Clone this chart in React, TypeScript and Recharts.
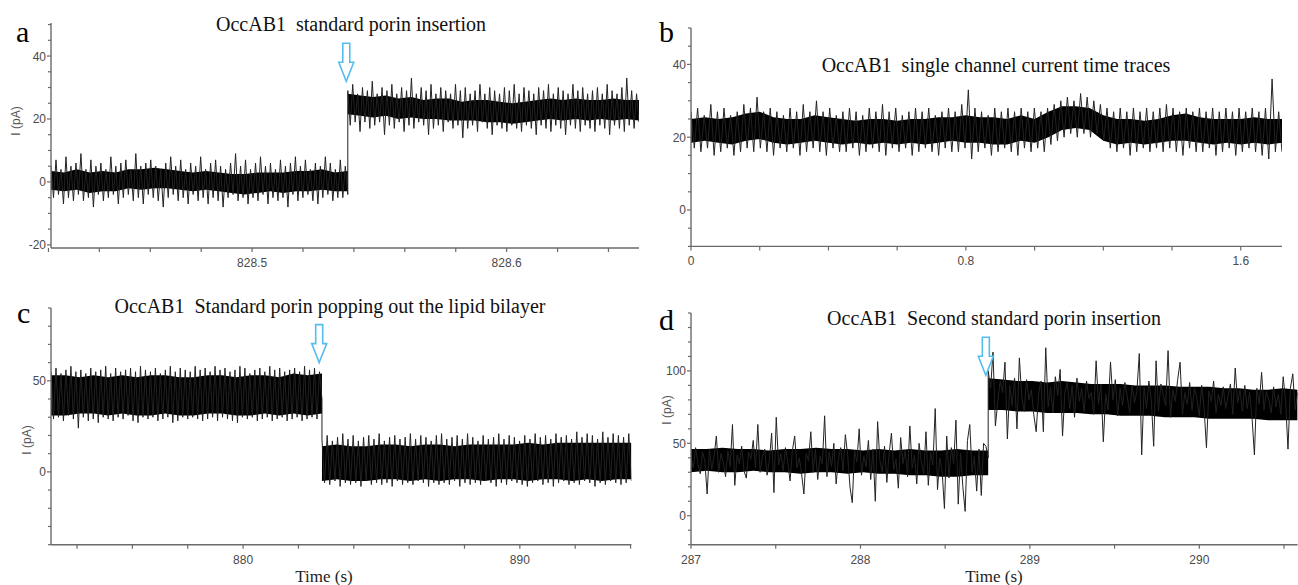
import React from 'react';
import { ComposedChart, Line, Area, XAxis, YAxis, ReferenceDot } from 'recharts';

const AXIS_COLOR = '#6a6a6a';
const TICK_TEXT = '#4a4a4a';
const ARROW_COLOR = '#55bdee';
const TRACE_COLOR = '#222222';

// ---------------- Panel a : OccAB1 standard porin insertion ----------------
const aTimeStart = 828.421;
const aTimeEnd = 828.652;
const aStepTime = 828.5376;
const aPreTrace = [
  5, -5, 7, -4, 4, -7, 8, -5, 5, -6, 6, -4, 9, -6, 4, -5, 7, -8, 5, -4,
  6, -6, 4, -5, 8, -4, 5, -7, 6, -5, 7, -4, 4, -6, 9, -5, 5, -7, 6, -4,
  7, -5, 5, -6, 4, -8, 6, -5, 8, -4, 5, -6, 7, -5, 4, -7, 6, -4, 5, -6,
  8, -5, 4, -7, 6, -5, 7, -6, 5, -8, 4, -5, 6, -4, 9, -6, 5, -5, 7, -7,
  4, -5, 6, -6, 8, -4, 5, -7, 6, -5, 4, -6, 7, -5, 5, -8, 6, -4, 8, -6,
  5, -5, 7, -4, 4, -6, 6, -7, 5, -5, 8, -4, 6, -6, 4, -5, 7, -5, 5, -4,
];
const aPostTrace = [
  29, 18, 31, 19, 28, 16, 30, 19, 29, 17, 32, 18, 28, 19, 30, 15, 29, 18, 31, 17,
  28, 19, 30, 16, 29, 18, 33, 17, 28, 19, 30, 18, 29, 15, 31, 17, 28, 18, 30, 16,
  29, 19, 28, 17, 31, 18, 29, 14, 30, 17, 28, 18, 29, 16, 31, 19, 28, 17, 30, 15,
  29, 18, 28, 17, 30, 16, 29, 18, 31, 17, 28, 16, 30, 18, 29, 17, 28, 15, 30, 18,
  29, 17, 31, 16, 28, 18, 30, 17, 29, 15, 28, 18, 31, 17, 29, 16, 30, 18, 28, 17,
  29, 16, 30, 18, 28, 17, 31, 15, 29, 18, 28, 17, 30, 16, 33, 18, 29, 17, 28, 19,
];
const aPreBand = [[-2.5, 3.5], [-3, 3], [-2.5, 4], [-3.5, 3], [-3, 3.5], [-3, 3], [-2, 4], [-2.5, 4], [-2, 4.5], [-2, 4], [-2.5, 3.5], [-3, 3], [-2.5, 3.5], [-3, 3], [-3.5, 2.5], [-4, 2.5], [-3.5, 3], [-3, 3], [-3.5, 3], [-3, 3.5], [-3, 3.5], [-2.5, 4], [-3, 3], [-3, 3.5]];
const aPostBand = [[21.5, 28], [21, 27.5], [20.5, 27], [21, 27.5], [20, 26.5], [20.5, 27], [20, 26], [20, 26.5], [19.5, 26.5], [19.5, 25.5], [19.5, 26], [19, 26], [19, 25.5], [18.5, 25], [19, 25.5], [19.5, 26], [20, 26.5], [19.5, 26], [20, 26.5], [19.5, 26], [20, 26], [19.5, 26.5], [20, 26], [19.5, 26]];
const aXTicks = [828.42, 828.44, 828.46, 828.48, 828.5, 828.52, 828.54, 828.56, 828.58, 828.6, 828.62, 828.64];
const aXLabels = [828.5, 828.6];
const aYTicks = [-20, -15, -10, -5, 0, 5, 10, 15, 20, 25, 30, 35, 40, 45, 50];
const aYLabels = [-20, 0, 20, 40];
const aArrow = { t: 828.537, i: 32 };

// ---------------- Panel b : single channel current time traces ----------------
const bTimeStart = 0;
const bTimeEnd = 1.72;
const bTrace = [
  27, 17, 28, 16, 26, 17, 29, 15, 27, 16, 28, 17, 26, 15, 27, 16, 29, 17, 28, 16,
  31, 17, 27, 16, 28, 15, 27, 17, 26, 16, 28, 17, 27, 15, 29, 16, 27, 17, 30, 16,
  27, 15, 28, 17, 26, 16, 27, 16, 28, 17, 27, 15, 26, 16, 28, 17, 27, 16, 29, 15,
  27, 17, 28, 16, 26, 17, 27, 15, 28, 16, 27, 17, 28, 16, 26, 15, 27, 17, 28, 16,
  27, 16, 29, 17, 33, 14, 28, 16, 27, 17, 26, 15, 28, 16, 27, 17, 28, 16, 27, 15,
  28, 17, 27, 16, 28, 17, 27, 16, 28, 18, 29, 19, 30, 20, 31, 21, 30, 20, 32, 21,
  31, 20, 30, 21, 29, 19, 28, 17, 27, 16, 28, 17, 27, 15, 28, 16, 27, 17, 28, 16,
  27, 17, 28, 16, 29, 17, 28, 16, 27, 15, 28, 17, 27, 16, 28, 16, 27, 17, 28, 15,
  27, 16, 28, 17, 27, 15, 28, 16, 27, 17, 28, 16, 27, 15, 28, 14, 36, 16, 27, 16,
];
const bBand = [[18.5, 25], [19, 25.5], [18.5, 25], [18, 25.5], [19, 26.5], [19.5, 27], [18.5, 25.5], [18, 25], [18.5, 25], [19, 26], [18.5, 25.5], [18, 25], [18.5, 24.5], [18, 25], [18.5, 25], [18, 24.5], [18.5, 25], [18, 25], [18.5, 25.5], [19, 25.5], [18.5, 26], [18.5, 25.5], [18, 25.5], [18, 25], [19, 26], [18.5, 25], [20, 27], [22, 28.5], [22.5, 28.5], [22, 28], [19, 26], [18, 25], [18.5, 25], [18, 24.5], [18.5, 25], [19, 26], [19, 26.5], [18.5, 25.5], [18, 25], [18.5, 25], [18, 25], [18.5, 25.5], [18, 25], [18.5, 25]];
const bXTicks = [0, 0.2, 0.4, 0.6, 0.8, 1.0, 1.2, 1.4, 1.6];
const bXLabels = [0, 0.8, 1.6];
const bYTicks = [-10, -5, 0, 5, 10, 15, 20, 25, 30, 35, 40, 45, 50];
const bYLabels = [0, 20, 40];

// ---------------- Panel c : standard porin popping out ----------------
const cTimeStart = 873.06;
const cTimeEnd = 894.03;
const cStepTime = 882.85;
const cPreTrace = [
  55, 29, 57, 30, 54, 28, 56, 31, 58, 29, 55, 24, 56, 30, 54, 28, 57, 29, 55, 27,
  56, 30, 58, 29, 54, 28, 57, 30, 55, 29, 56, 31, 57, 28, 55, 27, 58, 30, 56, 29,
  55, 30, 57, 28, 54, 29, 56, 30, 58, 27, 55, 28, 57, 30, 56, 29, 55, 30, 58, 29,
  56, 28, 57, 29, 55, 30, 58, 28, 56, 30, 57, 29, 55, 28, 56, 27, 58, 30, 57, 29,
  54, 30, 56, 28, 57, 29, 55, 30, 58, 28, 56, 29, 57, 30, 55, 28, 56, 29, 57, 30,
  55, 28, 58, 29, 56, 30, 57, 29, 55, 40,
];
const cPostTrace = [
  18, -6, 20, -7, 17, -5, 19, -8, 21, -6, 18, -7, 20, -6, 17, -8, 19, -5, 20, -7,
  18, -6, 21, -7, 17, -6, 19, -8, 20, -5, 18, -7, 19, -6, 21, -7, 18, -5, 20, -6,
  19, -8, 17, -6, 20, -7, 21, -6, 18, -7, 19, -5, 20, -8, 18, -6, 21, -7, 19, -6,
  17, -7, 20, -5, 18, -6, 19, -8, 21, -6, 18, -7, 20, -5, 19, -6, 17, -7, 20, -8,
  18, -6, 21, -5, 19, -7, 20, -6, 18, -8, 21, -6, 19, -5, 20, -7, 18, -6, 22, -7,
  19, -5, 21, -6, 20, -8, 18, -6, 22, -7, 19, -5, 21, -6, 20, -7, 19, -6, 21, -5,
];
const cPreBand = [[31, 53], [31, 53], [32, 52], [32, 53], [31, 52], [32, 53], [31, 52], [31, 53], [32, 53], [31, 52], [31, 52], [32, 53], [32, 53], [31, 52], [31, 53], [32, 53], [31, 52], [32, 54], [31, 53], [32, 54]];
const cPostBand = [[-5, 14], [-4, 15], [-5, 14], [-5, 14], [-4, 15], [-4, 15], [-5, 14], [-4, 15], [-5, 15], [-4, 14], [-4, 15], [-5, 15], [-4, 15], [-4, 15], [-5, 16], [-4, 15], [-4, 16], [-5, 16], [-4, 16], [-5, 16], [-4, 16], [-4, 16]];
const cXTicks = [874, 876, 878, 880, 882, 884, 886, 888, 890, 892, 894];
const cXLabels = [880, 890];
const cYTicks = [-40, -30, -20, -10, 0, 10, 20, 30, 40, 50, 60, 70, 80, 90];
const cYLabels = [0, 50];
const cArrow = { t: 882.75, i: 60 };

// ---------------- Panel d : second standard porin insertion ----------------
const dTimeStart = 287;
const dTimeEnd = 290.58;
const dStepTime = 288.754;
const dPreTrace = [
  40, 33, 47, 36, 29, 44, 38, 15, 46, 32, 41, 55, 30, 43, 37, 27, 45, 34, 63, 21,
  42, 36, 48, 31, 26, 44, 39, 52, 33, 63, 30, 41, 46, 28, 38, 57, 16, 68, 35, 43,
  31, 47, 37, 24, 45, 55, 33, 40, 29, 15, 43, 38, 58, 30, 46, 25, 41, 36, 69, 27,
  44, 34, 50, 22, 39, 47, 31, 56, 42, 20, 9, 45, 37, 60, 28, 41, 34, 52, 25, 46,
  10, 65, 38, 30, 48, 23, 43, 57, 32, 39, 19, 54, 36, 45, 27, 62, 33, 42, 22, 50,
  37, 29, 58, 21, 44, 35, 74, 18, 40, 31, 5, 55, 26, 47, 36, 66, 8, 43, 20, 3,
  52, 63, 30, 41, 17, 46, 14, 50, 48, 40,
];
const dPostTrace = [
  100, 88, 113, 62, 79, 93, 85, 106, 53, 90, 76, 95, 60, 109, 82, 72, 94, 80, 87, 70,
  58, 84, 93, 58, 116, 75, 89, 71, 96, 83, 101, 55, 86, 92, 74, 90, 68, 95, 79, 88,
  72, 93, 81, 85, 70, 107, 77, 91, 51, 84, 73, 106, 80, 94, 69, 88, 76, 92, 82, 71,
  90, 78, 86, 112, 42, 89, 74, 93, 80, 48, 107, 72, 91, 83, 76, 114, 68, 87, 79, 94,
  106, 70, 85, 77, 92, 73, 88, 81, 69, 90, 75, 47, 86, 79, 93, 71, 84, 76, 89, 74,
  82, 91, 70, 102, 78, 87, 72, 90, 74, 85, 68, 42, 88, 77, 99, 73, 86, 80, 71, 89,
  75, 84, 70, 96, 79, 46, 88, 98, 73, 85,
];
const dPreBand = [[30, 46], [31, 46], [30, 47], [30, 46], [31, 46], [30, 45], [30, 46], [29, 46], [30, 47], [30, 46], [29, 46], [30, 45], [29, 46], [29, 45], [28, 46], [28, 45], [27, 45], [27, 46], [28, 45], [28, 45]];
const dPostBand = [[73, 95], [73, 94], [72, 93], [72, 93], [71, 92], [71, 93], [71, 92], [70, 91], [70, 91], [69, 91], [69, 90], [69, 90], [68, 90], [68, 89], [68, 89], [67, 89], [67, 88], [67, 88], [67, 87], [66, 87], [66, 88], [66, 87]];
const dXTicks = [287, 287.5, 288, 288.5, 289, 289.5, 290, 290.5];
const dXLabels = [287, 288, 289, 290];
const dYTicks = [-20, -10, 0, 10, 20, 30, 40, 50, 60, 70, 80, 90, 100, 110, 120, 130, 140];
const dYLabels = [0, 50, 100];
const dArrow = { t: 288.74, i: 97 };

// ---------------- helpers ----------------
type Row = { t: number; v?: number; band?: number[] };

function traceRows(values: number[], t0: number, t1: number): Row[] {
  const n = values.length;
  return values.map((v, i) => ({ t: t0 + ((t1 - t0) * i) / (n - 1), v }));
}
function bandRows(pairs: number[][], t0: number, t1: number): Row[] {
  const n = pairs.length;
  return pairs.map((p, i) => ({ t: t0 + ((t1 - t0) * i) / (n - 1), band: p }));
}
const isIn = (list: number[], v: number) => list.some((l) => Math.abs(l - v) < 1e-9);

type PanelProps = {
  left: number;
  top: number;
  width: number;
  height: number;
  right: number;
  xDomain: number[];
  yDomain: number[];
  xTicks: number[];
  xLabels: number[];
  yTicks: number[];
  yLabels: number[];
  trace: Row[];
  bands: Row[][];
  arrow?: { t: number; i: number };
};

const ArrowShape = (props: any) => {
  const { cx, cy } = props;
  if (cx == null || cy == null) return <g />;
  const d = `M ${cx - 3.5} ${cy - 38} L ${cx + 3.5} ${cy - 38} L ${cx + 3.5} ${cy - 19} L ${cx + 7.5} ${cy - 19} L ${cx} ${cy} L ${cx - 7.5} ${cy - 19} L ${cx - 3.5} ${cy - 19} Z`;
  return <path d={d} fill="#ffffff" stroke={ARROW_COLOR} strokeWidth={1.6} strokeLinejoin="miter" />;
};

function Panel(p: PanelProps) {
  const renderYTick = (props: any) => {
    const { x, y, payload } = props;
    const major = isIn(p.yLabels, payload.value);
    return (
      <g>
        <line x1={x} x2={x - (major ? 4 : 3)} y1={y} y2={y} stroke={AXIS_COLOR} strokeWidth={1.2} />
        {major && (
          <text x={x - 5} y={y} dy={4.5} textAnchor="end" fontSize={12} fill={TICK_TEXT} fontFamily="'Liberation Sans', Arial, sans-serif">
            {String(payload.value)}
          </text>
        )}
      </g>
    );
  };
  const renderXTick = (props: any) => {
    const { x, y, payload } = props;
    const major = isIn(p.xLabels, payload.value);
    return (
      <g>
        <line x1={x} x2={x} y1={y} y2={y + 4} stroke={AXIS_COLOR} strokeWidth={1.2} />
        {major && (
          <text x={x} y={y} dy={19} textAnchor="middle" fontSize={12} fill={TICK_TEXT} fontFamily="'Liberation Sans', Arial, sans-serif">
            {String(payload.value)}
          </text>
        )}
      </g>
    );
  };
  return (
    <div style={{ position: 'absolute', left: p.left, top: p.top, width: p.width, height: p.height }}>
      <ComposedChart width={p.width} height={p.height} margin={{ top: 10, right: p.right, left: 0, bottom: 0 }}>
        <XAxis
          dataKey="t"
          type="number"
          domain={p.xDomain}
          allowDataOverflow
          ticks={p.xTicks}
          interval={0}
          tickSize={0}
          tickMargin={0}
          tickLine={false}
          tick={renderXTick}
          height={30}
          axisLine={{ stroke: AXIS_COLOR, strokeWidth: 1.4 }}
        />
        <YAxis
          type="number"
          domain={p.yDomain}
          allowDataOverflow
          ticks={p.yTicks}
          interval={0}
          tickSize={0}
          tickMargin={0}
          tickLine={false}
          tick={renderYTick}
          width={50}
          axisLine={{ stroke: AXIS_COLOR, strokeWidth: 1.4 }}
        />
        <Line
          data={p.trace}
          dataKey="v"
          type="linear"
          stroke={TRACE_COLOR}
          strokeWidth={1}
          dot={false}
          activeDot={false}
          isAnimationActive={false}
        />
        {p.bands.map((b, k) => (
          <Area
            key={k}
            data={b}
            dataKey="band"
            type="linear"
            stroke="none"
            fill="#000000"
            fillOpacity={1}
            dot={false}
            activeDot={false}
            isAnimationActive={false}
          />
        ))}
        {p.arrow && (
          <ReferenceDot x={p.arrow.t} y={p.arrow.i} r={1} shape={ArrowShape} ifOverflow="visible" />
        )}
      </ComposedChart>
    </div>
  );
}

const serif = "'Liberation Serif', 'Times New Roman', serif";
const sans = "'Liberation Sans', Arial, sans-serif";

export default function App() {
  const aTrace = [...traceRows(aPreTrace, aTimeStart, aStepTime), ...traceRows(aPostTrace, aStepTime, aTimeEnd)];
  const aBands = [bandRows(aPreBand, aTimeStart, aStepTime), bandRows(aPostBand, aStepTime, aTimeEnd)];
  const bTraceRows = traceRows(bTrace, bTimeStart, bTimeEnd);
  const bBands = [bandRows(bBand, bTimeStart, bTimeEnd)];
  const cTrace = [...traceRows(cPreTrace, cTimeStart, cStepTime), ...traceRows(cPostTrace, cStepTime, cTimeEnd)];
  const cBands = [bandRows(cPreBand, cTimeStart, cStepTime), bandRows(cPostBand, cStepTime, cTimeEnd)];
  const dTrace = [...traceRows(dPreTrace, dTimeStart, dStepTime), ...traceRows(dPostTrace, dStepTime, dTimeEnd)];
  const dBands = [bandRows(dPreBand, dTimeStart, dStepTime), bandRows(dPostBand, dStepTime, dTimeEnd)];

  return (
    <div style={{ position: 'absolute', left: 0, top: 0, width: 1298, height: 585, overflow: 'hidden', background: '#ffffff' }}>
      <Panel left={1.4} top={13.3} width={648} height={265} right={10}
        xDomain={[aTimeStart, aTimeEnd]} yDomain={[-21, 50.5]}
        xTicks={aXTicks} xLabels={aXLabels} yTicks={aYTicks} yLabels={aYLabels}
        trace={aTrace} bands={aBands} arrow={aArrow} />
      <Panel left={641.4} top={18.3} width={651} height={258.4} right={10}
        xDomain={[bTimeStart, bTimeEnd]} yDomain={[-10, 50]}
        xTicks={bXTicks} xLabels={bXLabels} yTicks={bYTicks} yLabels={bYLabels}
        trace={bTraceRows} bands={bBands} />
      <Panel left={1.4} top={298.3} width={640.4} height={276.7} right={10}
        xDomain={[cTimeStart, cTimeEnd]} yDomain={[-40, 90]}
        xTicks={cXTicks} xLabels={cXLabels} yTicks={cYTicks} yLabels={cYLabels}
        trace={cTrace} bands={cBands} arrow={cArrow} />
      <Panel left={641.4} top={303.3} width={656.6} height={271.7} right={0}
        xDomain={[dTimeStart, dTimeEnd]} yDomain={[-20, 140]}
        xTicks={dXTicks} xLabels={dXLabels} yTicks={dYTicks} yLabels={dYLabels}
        trace={dTrace} bands={dBands} arrow={dArrow} />

      <svg width={1298} height={585} style={{ position: 'absolute', left: 0, top: 0, pointerEvents: 'none' }}>
        <text x={16} y={41.5} fontSize={30} fontFamily={serif} fill="#000">a</text>
        <text x={659} y={41.5} fontSize={30} fontFamily={serif} fill="#000">b</text>
        <text x={17} y={323} fontSize={30} fontFamily={serif} fill="#000">c</text>
        <text x={659} y={330} fontSize={30} fontFamily={serif} fill="#000">d</text>

        <text x={351} y={31} fontSize={20} fontFamily={serif} textAnchor="middle" fill="#111" style={{ whiteSpace: 'pre' }} xmlSpace="preserve">OccAB1  standard porin insertion</text>
        <text x={996} y={72} fontSize={20} fontFamily={serif} textAnchor="middle" fill="#111" style={{ whiteSpace: 'pre' }} xmlSpace="preserve">OccAB1  single channel current time traces</text>
        <text x={330} y={313} fontSize={20} fontFamily={serif} textAnchor="middle" fill="#111" style={{ whiteSpace: 'pre' }} xmlSpace="preserve">OccAB1  Standard porin popping out the lipid bilayer</text>
        <text x={994} y={325} fontSize={20} fontFamily={serif} textAnchor="middle" fill="#111" style={{ whiteSpace: 'pre' }} xmlSpace="preserve">OccAB1  Second standard porin insertion</text>

        <text x={324} y={582} fontSize={17} fontFamily={serif} textAnchor="middle" fill="#222">Time (s)</text>
        <text x={994} y={582} fontSize={17} fontFamily={serif} textAnchor="middle" fill="#222">Time (s)</text>

        <text transform="translate(20,121) rotate(-90)" fontSize={12} fontFamily={sans} textAnchor="middle" fill="#555">I (pA)</text>
        <text transform="translate(31,440) rotate(-90)" fontSize={12} fontFamily={sans} textAnchor="middle" fill="#555">I (pA)</text>
        <text transform="translate(671,410) rotate(-90)" fontSize={12} fontFamily={sans} textAnchor="middle" fill="#555">I (pA)</text>
      </svg>
    </div>
  );
}
